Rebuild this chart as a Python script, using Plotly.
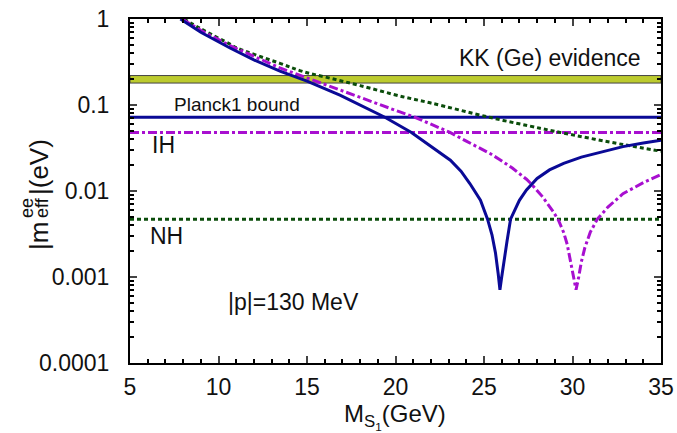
import math
import plotly.graph_objects as go

# Curves
blue_x = [7.85, 9.0, 10.65, 12.0, 13.47, 15.0, 16.86, 18.56, 19.4, 20.9, 22.5, 23.1, 23.7, 24.2, 24.8, 25.2,
          25.45, 25.65, 25.8, 25.9, 26.0, 26.15, 26.3, 26.5, 27.0, 27.4, 28.0, 28.7, 29.5, 30.5, 31.55, 32.85, 34.0, 35.0]
blue_y = [1.0, 0.70, 0.46, 0.335, 0.248, 0.19, 0.13, 0.088, 0.072, 0.048, 0.028, 0.0228, 0.017, 0.0122, 0.0078, 0.0047,
          0.0031, 0.0019, 0.0011, 0.00071, 0.0010, 0.0017, 0.0026, 0.0047, 0.0078, 0.0103, 0.014, 0.0176, 0.021, 0.0248,
          0.0283, 0.0328, 0.0362, 0.039]

mag_x = [7.95, 9.0, 10.65, 13.47, 14.77, 16.86, 18.0, 20.25, 21.1, 22.0, 23.08, 24.0, 24.95, 25.34, 25.9, 26.6, 27.4,
         27.7, 28.3, 28.9, 29.2, 29.5, 29.7, 29.9, 30.05, 30.2, 30.35, 30.5, 30.7, 31.0, 31.4, 32.0, 32.85, 34.0, 35.0]
mag_y = [1.0, 0.74, 0.49, 0.27, 0.215, 0.149, 0.121, 0.083, 0.072, 0.060, 0.048, 0.038, 0.0304, 0.0273, 0.0231, 0.0185,
         0.0137, 0.0119, 0.0086, 0.0058, 0.0046, 0.0033, 0.0024, 0.0015, 0.0010, 0.00071, 0.0010, 0.0015, 0.0022, 0.0033,
         0.0047, 0.0065, 0.0093, 0.0125, 0.0155]

green_x = [8.05, 9.0, 10.65, 11.05, 13.47, 14.77, 16.3, 18.0, 20.4, 21.95, 25.3, 28.16, 29.3, 32.85, 35.0]
green_y = [1.0, 0.77, 0.51, 0.46, 0.305, 0.245, 0.205, 0.168, 0.125, 0.106, 0.072, 0.0537, 0.048, 0.0347, 0.029]

x_range = [5, 35]
planck_bound = 0.072
ih_level = 0.048
nh_level = 0.0047
kk_band = [0.18, 0.22]

x_ticks = [5, 10, 15, 20, 25, 30, 35]
y_ticks = [1e-4, 1e-3, 1e-2, 1e-1, 1]
y_ticklabels = ["0.0001", "0.001", "0.01", "0.1", "1"]

NAVY = "#0a0a96"
VIOLET = "#a80fd0"
DGREEN = "#0b4d0b"
TXT = "#111111"
FONT = "Liberation Sans, Arial, sans-serif"
DASHDOT = "9px,3px,3px,3px"
DASHED = "4px,3px"

fig = go.Figure()

# KK band
fig.add_trace(go.Scatter(
    x=[x_range[0], x_range[1], x_range[1], x_range[0], x_range[0]],
    y=[kk_band[0], kk_band[0], kk_band[1], kk_band[1], kk_band[0]],
    fill="toself", fillcolor="#bccb2e", mode="lines",
    line=dict(color="#444444", width=1), hoverinfo="skip", showlegend=False))

# Horizontal lines
fig.add_trace(go.Scatter(x=x_range, y=[planck_bound] * 2, mode="lines",
                         line=dict(color=NAVY, width=3), showlegend=False))
fig.add_trace(go.Scatter(x=x_range, y=[ih_level] * 2, mode="lines",
                         line=dict(color=VIOLET, width=3, dash=DASHDOT), showlegend=False))
fig.add_trace(go.Scatter(x=x_range, y=[nh_level] * 2, mode="lines",
                         line=dict(color=DGREEN, width=3, dash=DASHED), showlegend=False))

# Curves
fig.add_trace(go.Scatter(x=green_x, y=green_y, mode="lines", line_shape="spline",
                         line=dict(color=DGREEN, width=3, dash=DASHED), showlegend=False))
fig.add_trace(go.Scatter(x=mag_x, y=mag_y, mode="lines",
                         line=dict(color=VIOLET, width=3, dash=DASHDOT), showlegend=False))
fig.add_trace(go.Scatter(x=blue_x, y=blue_y, mode="lines",
                         line=dict(color=NAVY, width=3), showlegend=False))

# Text labels in data coordinates (x, value)
labels = [
    (28.73, 0.352, "KK (Ge) evidence", 23),
    (11.07, 0.1015, "Planck1 bound", 19),
    (6.92, 0.0343, "IH", 23),
    (7.09, 0.0030, "NH", 23),
    (14.21, 0.00051, "|p|=130 MeV", 23),
]
for x, v, t, s in labels:
    fig.add_annotation(x=x, y=math.log10(v), xref="x", yref="y", text=t, showarrow=False,
                       xanchor="center", yanchor="middle", font=dict(size=s, color=TXT, family=FONT))

# Plot area in window pixels: 130..661 x 19..363 (page margin removed below)
L, R, T, B = 130, 661, 19, 363
W, H = 677, 433

def px(xp):
    return (xp - L) / (R - L)

def py(yp):
    return (B - yp) / (B - T)

ytitle = [
    (39, 236, "|m", 26),
    (27, 208, "ee", 18),
    (42, 208, "eff", 18),
    (39, 167, "|(eV)", 26),
]
for xp, yp, t, s in ytitle:
    fig.add_annotation(x=px(xp), y=py(yp), xref="paper", yref="paper", text=t, showarrow=False,
                       textangle=-90, xanchor="center", yanchor="middle",
                       font=dict(size=s, color=TXT, family=FONT))
fig.add_annotation(x=px(395), y=py(416), xref="paper", yref="paper",
                   text="M<sub>S<sub>1</sub></sub>(GeV)", showarrow=False,
                   xanchor="center", yanchor="middle", font=dict(size=24, color=TXT, family=FONT))

fig.update_xaxes(range=x_range, tickvals=x_ticks, ticks="inside", ticklen=7, tickwidth=1.5,
                 showline=True, linecolor="black", linewidth=2, mirror="ticks", showgrid=False, zeroline=False,
                 minor=dict(ticks="inside", ticklen=4, dtick=1, tickcolor="black"),
                 tickfont=dict(size=23, family=FONT, color=TXT), automargin=False, ticklabelstandoff=2,
                 ticklabeloverflow="allow")
fig.update_yaxes(type="log", range=[-4, 0], tickvals=y_ticks, ticktext=y_ticklabels, ticks="inside",
                 ticklen=7, tickwidth=1.5, showline=True, linecolor="black", linewidth=2, mirror="ticks",
                 showgrid=False, zeroline=False,
                 minor=dict(ticks="inside", ticklen=4, dtick="D1", tickcolor="black"),
                 tickfont=dict(size=23, family=FONT, color=TXT), automargin=False, ticklabelstandoff=14,
                 ticklabeloverflow="allow")

fig.update_layout(width=W, height=H, margin=dict(l=L, r=W - R, t=T, b=H - B),
                  plot_bgcolor="white", paper_bgcolor="white", font=dict(family=FONT))

fig.write_html("out.html", config={"displayModeBar": False},
               post_script="document.body.style.margin='0';document.body.style.overflow='hidden';")
